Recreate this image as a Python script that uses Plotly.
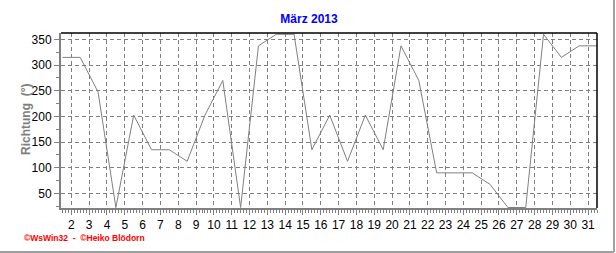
import plotly.graph_objects as go

# Data: wind direction (degrees) per day, plotted at mid-day positions
days = [1.5, 2.5, 3.5, 4.5, 5.5, 6.5, 7.5, 8.5, 9.5, 10.5, 11.5, 12.5, 13.5, 14.5, 15.5,
        16.5, 17.5, 18.5, 19.5, 20.5, 21.5, 22.5, 23.5, 24.5, 25.5, 26.5, 27.5, 28.5,
        29.5, 30.5, 31.5]
richtung = [315, 315, 247.5, 22.5, 202.5, 135, 135, 112.5, 202.5, 270, 22.5, 337.5, 360,
            360, 135, 202.5, 112.5, 202.5, 135, 337.5, 270, 90, 90, 90, 67.5, 22.5, 22.5,
            360, 315, 337.5, 337.5]
x_tickvals = list(range(2, 32))
x_ticktext = [str(d) for d in x_tickvals]
y_tickvals = [50, 100, 150, 200, 250, 300, 350]

title_text = "März 2013"
y_title = "Richtung  (°)"
footer = "©WsWin32  -  ©Heiko Blödorn"

W, H = 616, 253
L, R, T, B = 61, 19, 33, 45
pw, ph = W - L - R, H - T - B

fig = go.Figure()
fig.add_trace(go.Scatter(x=days, y=richtung, mode="lines",
                         line=dict(color="#808080", width=1), hoverinfo="skip"))

fig.update_layout(
    width=W, height=H,
    margin=dict(l=L, r=R, t=T, b=B, pad=0),
    paper_bgcolor="white", plot_bgcolor="white",
    showlegend=False,
    font=dict(family="Arial, Liberation Sans", size=12, color="black"),
    title=dict(text="<b>" + title_text + "</b>", x=309 / W, xanchor="center",
               y=1 - 19 / H, yanchor="middle", xref="container", yref="container",
               font=dict(color="#0000FF", size=12)),
)

fig.update_xaxes(
    range=[1.42, 31.5], tickmode="array", tickvals=x_tickvals, ticktext=x_ticktext,
    showgrid=True, gridcolor="#808080", griddash="4px,3px", gridwidth=1,
    showline=True, linecolor="#808080", linewidth=2,
    ticks="outside", ticklen=5, tickcolor="#808080", tickwidth=1,
    minor=dict(dtick=1 / 6, tick0=0, ticks="outside", ticklen=3, tickcolor="#808080",
               showgrid=False),
    zeroline=False, fixedrange=True,
)
fig.update_yaxes(
    range=[21.5, 362.5], tickmode="array", tickvals=y_tickvals,
    showgrid=True, gridcolor="#808080", griddash="4px,3px", gridwidth=1,
    showline=True, linecolor="#808080", linewidth=2,
    ticks="outside", ticklen=5, tickcolor="#808080", tickwidth=1,
    minor=dict(dtick=25, tick0=0, ticks="outside", ticklen=3, tickcolor="#808080",
               showgrid=False),
    zeroline=False, fixedrange=True,
)

# black border top and right
fig.add_shape(type="line", xref="paper", yref="paper", x0=0, x1=1, y0=1, y1=1,
              line=dict(color="black", width=1.5))
fig.add_shape(type="line", xref="paper", yref="paper", x0=1, x1=1, y0=0, y1=1,
              line=dict(color="black", width=1.5))
# outer gray frame right & bottom
fx = (614 - L) / pw
fy = (T + ph - 252) / ph
fig.add_shape(type="line", xref="paper", yref="paper", x0=fx, x1=fx, y0=fy,
              y1=(T + ph) / ph, line=dict(color="#A0A0A0", width=2))
fig.add_shape(type="line", xref="paper", yref="paper", x0=-L / pw, x1=fx, y0=fy, y1=fy,
              line=dict(color="#A0A0A0", width=2))

fig.add_annotation(text="<b>" + y_title + "</b>", xref="paper", yref="paper",
                   x=(26 - L) / pw, y=(T + ph - 120) / ph, textangle=-90,
                   showarrow=False, xanchor="center", yanchor="middle",
                   font=dict(color="#808080", size=12))
fig.add_annotation(text="<b>" + footer + "</b>", xref="paper", yref="paper",
                   x=(22 - L) / pw, y=(T + ph - 238) / ph, showarrow=False,
                   xanchor="left", yanchor="middle",
                   font=dict(color="#FF0000", size=8.5))

fig.write_html("out.html")
